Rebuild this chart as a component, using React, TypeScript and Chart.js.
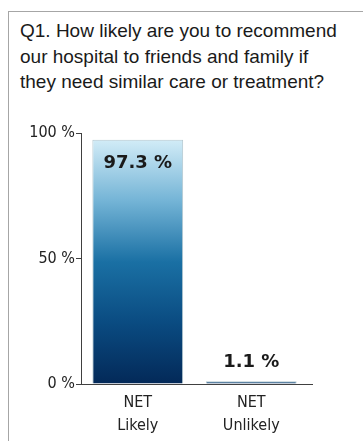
import React, { useEffect, useRef } from "react";
import { Chart, registerables } from "chart.js";

Chart.register(...registerables);

const titleLines = [
  "Q1. How likely are you to recommend",
  "our hospital to friends and family if",
  "they need similar care or treatment?",
];
const categories: string[][] = [["NET", "Likely"], ["NET", "Unlikely"]];
const values = [97.3, 1.1];
const yTicks = [0, 50, 100];

const labelPlugin = {
  id: "barLabels",
  afterDatasetsDraw(chart: any) {
    const ctx = chart.ctx;
    const meta = chart.getDatasetMeta(0);
    ctx.save();
    // extend the x-axis line slightly past the plot, as in the original
    const ca = chart.chartArea;
    ctx.strokeStyle = "#404040";
    ctx.lineWidth = 1;
    ctx.beginPath();
    ctx.moveTo(ca.right, Math.round(ca.bottom) + 0.5);
    ctx.lineTo(ca.right + 5, Math.round(ca.bottom) + 0.5);
    ctx.stroke();

    ctx.font = "bold 18px 'DejaVu Sans'";
    ctx.fillStyle = "#1a1a1a";
    ctx.textAlign = "center";
    ctx.textBaseline = "alphabetic";
    meta.data.forEach((bar: any, i: number) => {
      const v = values[i];
      const txt = v.toFixed(1) + " %";
      if (v > 50) ctx.fillText(txt, bar.x, bar.y + 28);
      else ctx.fillText(txt, bar.x, bar.y - 14);
    });
    ctx.restore();
  },
};

export default function App() {
  const ref = useRef<HTMLCanvasElement>(null);
  useEffect(() => {
    if (!ref.current) return;
    const chart = new Chart(ref.current, {
      type: "bar",
      data: {
        labels: categories,
        datasets: [
          {
            data: values,
            backgroundColor: (c: any) => {
              const ch = c.chart;
              if (!ch.chartArea) return "#1b6fa3";
              const ys = ch.scales.y;
              const top = ys.getPixelForValue(c.raw ?? 0);
              const bottom = ys.getPixelForValue(0);
              if (bottom - top < 1) return "#0b4f86";
              const g = ch.ctx.createLinearGradient(0, top, 0, bottom);
              if (bottom - top < 12) {
                g.addColorStop(0, "#4a80a8");
                g.addColorStop(1, "#0b3360");
                return g;
              }
              g.addColorStop(0, "#d2ecf7");
              g.addColorStop(0.25, "#74b4d6");
              g.addColorStop(0.5, "#1a70a4");
              g.addColorStop(0.75, "#0a4b81");
              g.addColorStop(1, "#032958");
              return g;
            },
            borderColor: "#b4c8d0",
            borderWidth: { top: 1, left: 1, right: 1, bottom: 0 },
            borderSkipped: "bottom",
            categoryPercentage: 1,
            barPercentage: 0.8,
          },
        ],
      },
      options: {
        animation: false,
        responsive: false,
        maintainAspectRatio: false,
        layout: { padding: { left: 0, top: 133, right: 55, bottom: 0 } },
        plugins: {
          legend: { display: false },
          tooltip: { enabled: false },
          title: { display: false },
        },
        scales: {
          x: {
            grid: { display: true, drawOnChartArea: false, drawTicks: false },
            border: { display: true, color: "#404040", width: 1 },
            ticks: {
              color: "#222222",
              font: { family: "'DejaVu Sans Condensed'", size: 16, lineHeight: 1.45 },
              padding: 7,
              maxRotation: 0,
              autoSkip: false,
            },
            afterFit: (s: any) => {
              s.height = 57;
            },
          },
          y: {
            min: 0,
            max: 100,
            afterBuildTicks: (s: any) => {
              s.ticks = yTicks.map((v) => ({ value: v }));
            },
            grid: {
              display: true,
              drawOnChartArea: false,
              drawTicks: true,
              tickLength: 5,
              color: "#404040",
            },
            border: { display: true, color: "#404040", width: 1 },
            ticks: {
              color: "#222222",
              font: { family: "'DejaVu Sans Condensed'", size: 16 },
              padding: 1,
              callback: (v: any) => v + " %",
            },
            afterFit: (s: any) => {
              s.width = 81;
            },
          },
        },
      },
      plugins: [labelPlugin],
    });
    return () => chart.destroy();
  }, []);

  return (
    <div style={{ position: "fixed", left: 0, top: 0, width: 363, height: 441, overflow: "hidden", background: "#fff" }}>
      <div
        style={{
          position: "absolute",
          left: 8,
          top: 11,
          width: 355,
          height: 430,
          borderTop: "1px solid #a6a6a6",
          borderLeft: "1px solid #a6a6a6",
          boxSizing: "border-box",
        }}
      />
      <div
        style={{
          position: "absolute",
          left: 20,
          top: 18,
          fontFamily: "'Liberation Sans', Arial, sans-serif",
          fontSize: 19,
          lineHeight: "25.5px",
          color: "#1a1a1a",
          whiteSpace: "nowrap",
        }}
      >
        {titleLines.map((l, i) => (
          <div key={i}>{l}</div>
        ))}
      </div>
      <canvas ref={ref} width={363} height={441} style={{ position: "absolute", left: 0, top: 0, width: 363, height: 441 }} />
    </div>
  );
}
